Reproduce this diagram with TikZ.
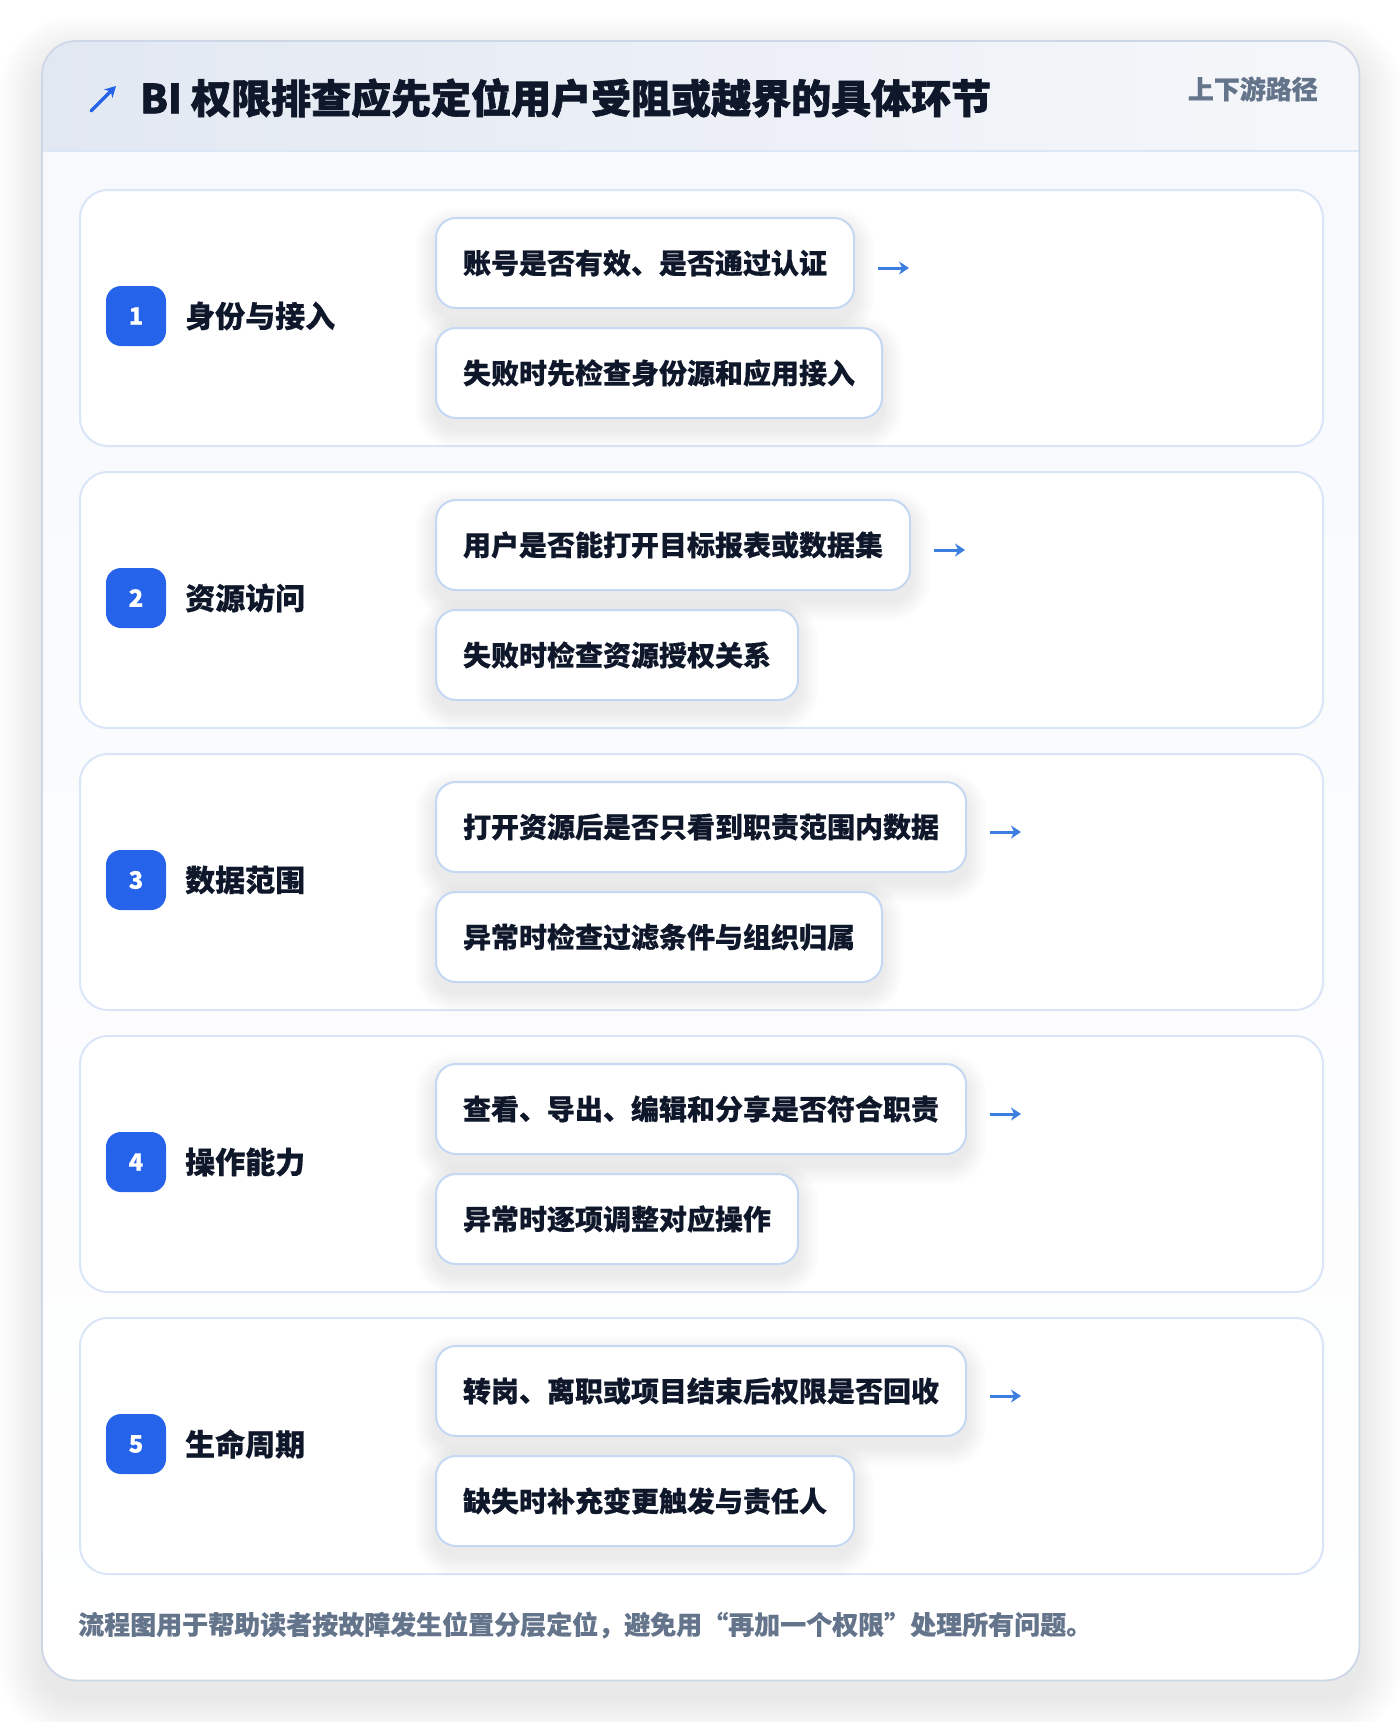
\documentclass[tikz,border=0pt]{standalone}
\usepackage{fontspec}
\setmainfont{Noto Sans CJK SC}[BoldFeatures={FakeBold=0.4}]
\newfontfamily\titlefont{Noto Sans CJK SC}[BoldFeatures={FakeBold=1.6}]
\usetikzlibrary{arrows.meta,calc}
\definecolor{cardborder}{HTML}{CDD7E5}
\definecolor{hdrL}{HTML}{E2E8F2}
\definecolor{hdrR}{HTML}{F5F7FA}
\definecolor{hdrline}{HTML}{DCE7F6}
\definecolor{bodyT}{HTML}{F7F9FC}
\definecolor{rowborder}{HTML}{DAE6F7}
\definecolor{itemborder}{HTML}{C4D8F3}
\definecolor{badgeblue}{HTML}{2563EB}
\definecolor{arrowblue}{HTML}{3D7FE0}
\definecolor{ink}{HTML}{0F172A}
\definecolor{muted}{HTML}{64748B}
\pgfdeclarelayer{panels}
\pgfdeclarelayer{shadows}
\pgfsetlayers{panels,shadows,main}
% soft shadow behind a named node: #1 node, #2 corner radius, #3 y offset, #4 steps, #5 opacity per step
\newcommand\mysoftshadow[5]{%
  \foreach \s in {1,...,#4}{%
    \pgfmathsetmacro\rr{#2+\s}%
    \fill[black, opacity=#5, rounded corners=\rr pt] ($(#1.north west)+(-\s,#3-\s)$) rectangle ($(#1.south east)+(\s,#3+\s)$);
  }}
\tikzset{
  cardbox/.style={fill=white, rounded corners=34pt, inner sep=0pt},
  rowpanel/.style={draw=rowborder, line width=2pt, fill=white, rounded corners=28pt, inner sep=0pt},
  badge/.style={fill=badgeblue, rounded corners=15pt, minimum width=60pt, minimum height=60pt, inner sep=0pt, text=white, font=\fontsize{24}{28}\selectfont\bfseries},
  rowlabel/.style={inner sep=0pt, text=ink, font=\fontsize{30}{36}\selectfont\bfseries},
  itembox/.style={draw=itemborder, line width=2pt, fill=white, rounded corners=20pt, minimum height=90pt, inner xsep=27pt, inner ysep=0pt, text=ink, font=\fontsize{28}{34}\selectfont\bfseries},
  flowarrow/.style={draw=arrowblue, line width=3pt, -{Stealth[length=10pt,width=13pt]}},
}
\begin{document}
\begin{tikzpicture}[x=1pt,y=-1pt]
\useasboundingbox (0,0) rectangle (1400,1722);
\begin{pgfonlayer}{panels}
\fill[white] (0,0) rectangle (1400,1722);
\node[cardbox, minimum width=1317pt, minimum height=1639pt, anchor=north west] (card) at (42,41) {};
\end{pgfonlayer}
\begin{pgfonlayer}{panels}
\foreach \s in {2,4,...,44}{%
  \pgfmathsetmacro\rr{34+\s}%
  \fill[black, opacity=0.004, rounded corners=\rr pt] ($(card.north west)+(-\s,18-\s)$) rectangle ($(card.south east)+(\s,18+\s)$);
}
\fill[white, rounded corners=34pt] (card.north west) rectangle (card.south east);
\begin{scope}
\clip[rounded corners=34pt] (card.north west) rectangle (card.south east);
\shade[left color=hdrL, right color=hdrR] (42,41) rectangle (1359,151);
\shade[top color=bodyT, bottom color=white] (42,151) rectangle (1359,1680);
\draw[hdrline, line width=2pt] (42,151) -- (1359,151);
\end{scope}
\draw[cardborder, line width=1.8pt, rounded corners=34pt] (card.north west) rectangle (card.south east);
\end{pgfonlayer}
% header
\coordinate (ti1) at (91,111);
\coordinate (ti2) at (116,86);
\draw[draw=badgeblue, line width=3.5pt, line cap=round, -{Stealth[length=11pt,width=12pt]}] (ti1) -- (ti2);
\node[anchor=west, inner sep=0pt, text=ink, font=\titlefont\fontsize{40}{46}\selectfont\bfseries] (title) at (140,98) {BI 权限排查应先定位用户受阻或越界的具体环节};
\node[anchor=east, inner sep=0pt, text=muted, font=\fontsize{26}{30}\selectfont\bfseries] (tag) at (1318,89) {上下游路径};
% rows
\foreach \k/\n/\lab/\ta/\tb in {
  0/1/身份与接入/账号是否有效、是否通过认证/失败时先检查身份源和应用接入,
  1/2/资源访问/用户是否能打开目标报表或数据集/失败时检查资源授权关系,
  2/3/数据范围/打开资源后是否只看到职责范围内数据/异常时检查过滤条件与组织归属,
  3/4/操作能力/查看、导出、编辑和分享是否符合职责/异常时逐项调整对应操作,
  4/5/生命周期/转岗、离职或项目结束后权限是否回收/缺失时补充变更触发与责任人}{
  \pgfmathsetmacro\yt{189+282*\k}
  \begin{pgfonlayer}{panels}
  \node[rowpanel, minimum width=1243pt, minimum height=256pt, anchor=north west] (row\k) at (79,\yt) {};
  \end{pgfonlayer}
  \node[badge] (b\k) at (136,\yt+127) {\n};
  \node[rowlabel, anchor=west] (l\k) at (185,\yt+127) {\lab};
  \node[itembox, anchor=north west] (ia\k) at (435,\yt+28) {\ta};
  \node[itembox, anchor=north west] (ib\k) at (435,\yt+138) {\tb};
  \begin{pgfonlayer}{shadows}
  \mysoftshadow{ia\k}{20}{10}{20}{0.0045}
  \mysoftshadow{ib\k}{20}{10}{20}{0.0045}
  \end{pgfonlayer}
  \coordinate (as\k) at ($(ia\k.east)+(23,5)$);
  \coordinate (ae\k) at ($(as\k)+(31,0)$);
  \draw[flowarrow] (as\k) -- (ae\k);
}
% footer
\node[anchor=west, inner sep=0pt, text=muted, font=\fontsize{26}{30}\selectfont\bfseries] (foot) at (78,1625) {流程图用于帮助读者按故障发生位置分层定位，避免用“再加一个权限”处理所有问题。};
\end{tikzpicture}
\end{document}
